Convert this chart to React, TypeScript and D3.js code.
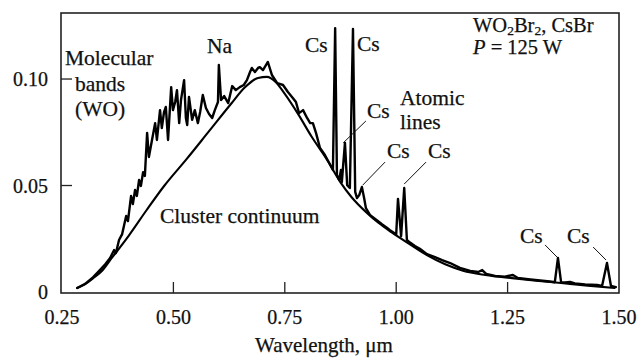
import React from 'react';
import * as d3 from 'd3';

// ---- data ----
const xTickValues = [0.25, 0.5, 0.75, 1.0, 1.25, 1.5];
const xTickLabels = ['0.25', '0.50', '0.75', '1.00', '1.25', '1.50'];
const xTickMarks = [0.5, 0.75, 1.0, 1.25];
const yTickValues = [0, 0.05, 0.1];
const yTickLabels = ['0', '0.05', '0.10'];
const yTickMarks = [0.05, 0.1];

// Cluster continuum (smooth)
const contWl = [0.284, 0.30, 0.32, 0.34, 0.36, 0.40, 0.44, 0.48, 0.53, 0.58, 0.63, 0.66, 0.69, 0.71, 0.73, 0.75, 0.78, 0.81, 0.845, 0.875, 0.90, 0.935, 0.96, 0.99, 1.03, 1.07, 1.11, 1.15, 1.20, 1.26, 1.32, 1.37, 1.43, 1.49];
const contVal = [0.0019, 0.0035, 0.0065, 0.0100, 0.0155, 0.0265, 0.0385, 0.0500, 0.0625, 0.0755, 0.0885, 0.0960, 0.1005, 0.1010, 0.0985, 0.0930, 0.0835, 0.0730, 0.0620, 0.0515, 0.0445, 0.0370, 0.0325, 0.0280, 0.0225, 0.0172, 0.0130, 0.0100, 0.0080, 0.0065, 0.0052, 0.0042, 0.0030, 0.0019];

// Measured spectrum
const specWl = [
  0.284, 0.302, 0.320, 0.335, 0.347, 0.358, 0.367, 0.371, 0.378, 0.385,
  0.389, 0.394, 0.398, 0.405, 0.409, 0.414, 0.418, 0.423, 0.427, 0.432,
  0.436, 0.439, 0.441, 0.445, 0.452, 0.459, 0.463, 0.470, 0.474, 0.479,
  0.483, 0.488, 0.495, 0.499, 0.504, 0.508, 0.513, 0.517, 0.524, 0.528,
  0.531, 0.535, 0.542, 0.548, 0.555, 0.560, 0.566, 0.573, 0.580, 0.587,
  0.593, 0.600, 0.602, 0.607, 0.614, 0.623, 0.632, 0.640, 0.649, 0.658,
  0.665, 0.672, 0.676, 0.683, 0.690, 0.694, 0.701, 0.712, 0.721, 0.733,
  0.746, 0.757, 0.768, 0.775, 0.782, 0.791, 0.800, 0.807, 0.813, 0.820,
  0.829, 0.840, 0.851, 0.858, 0.863, 0.867, 0.872, 0.876, 0.878, 0.885,
  0.890, 0.896, 0.903, 0.908, 0.912, 0.917, 0.923, 0.928, 0.932, 0.941,
  0.955, 0.968, 0.979, 0.986, 0.993, 1.000, 1.004, 1.011, 1.018, 1.024,
  1.031, 1.042, 1.053, 1.069, 1.087, 1.103, 1.121, 1.143, 1.166, 1.184,
  1.193, 1.202, 1.222, 1.244, 1.262, 1.273, 1.296, 1.323, 1.345, 1.356,
  1.363, 1.370, 1.379, 1.390, 1.401, 1.424, 1.451, 1.462, 1.473, 1.482,
  1.493,
];
const specVal = [
  0.0019, 0.0038, 0.0070, 0.0103, 0.0130, 0.0160, 0.0197, 0.0183, 0.0244, 0.0272,
  0.0310, 0.0357, 0.0333, 0.0451, 0.0413, 0.0479, 0.0451, 0.0526, 0.0498, 0.0563,
  0.0545, 0.0667, 0.0747, 0.0634, 0.0714, 0.0793, 0.0714, 0.0854, 0.0770, 0.0845,
  0.0869, 0.0714, 0.0962, 0.0854, 0.0892, 0.0948, 0.0793, 0.0901, 0.0995, 0.0817,
  0.0784, 0.0916, 0.0808, 0.0854, 0.0793, 0.0845, 0.0925, 0.0864, 0.0836, 0.0817,
  0.0854, 0.0892, 0.1066, 0.0901, 0.0920, 0.0887, 0.0967, 0.0948, 0.0962, 0.0972,
  0.0995, 0.1033, 0.1052, 0.1033, 0.1052, 0.1056, 0.1042, 0.1080, 0.1019, 0.0981,
  0.0972, 0.0939, 0.0911, 0.0892, 0.0840, 0.0854, 0.0817, 0.0793, 0.0793, 0.0747,
  0.0676, 0.0643, 0.0601, 0.0573, 0.1239, 0.0549, 0.0526, 0.0573, 0.0516, 0.0700,
  0.0502, 0.0488, 0.1235, 0.0470, 0.0441, 0.0455, 0.0493, 0.0441, 0.0394, 0.0362,
  0.0340, 0.0318, 0.0302, 0.0290, 0.0280, 0.0270, 0.0437, 0.0262, 0.0488, 0.0244,
  0.0232, 0.0216, 0.0203, 0.0178, 0.0164, 0.0150, 0.0136, 0.0113, 0.0099, 0.0094,
  0.0103, 0.0085, 0.0075, 0.0072, 0.0080, 0.0066, 0.0060, 0.0054, 0.0049, 0.0046,
  0.0160, 0.0046, 0.0045, 0.0047, 0.0040, 0.0036, 0.0033, 0.0028, 0.0136, 0.0028,
  0.0023,
];

// Leader lines for Cs labels: from label side to line peak
const leaderFromWl = [0.932, 0.975, 1.067, 1.334, 1.442];
const leaderFromVal = [0.0803, 0.0610, 0.0610, 0.0221, 0.0211];
const leaderToWl = [0.881, 0.925, 1.018, 1.361, 1.471];
const leaderToVal = [0.0700, 0.0502, 0.0507, 0.0164, 0.0150];

const FONT = 'Liberation Serif';
const INK = '#111';

export default function App() {
  const W = 640, H = 360;
  const left = 61, right = 619, top = 13, bottom = 293;
  const x = d3.scaleLinear().domain([0.25, 1.5]).range([62, 619]);
  const y = d3.scaleLinear().domain([0, 0.131]).range([292, 13]);

  const contPts: [number, number][] = contWl.map((w, i) => [w, contVal[i]]);
  const specPts: [number, number][] = specWl.map((w, i) => [w, specVal[i]]);

  const contLine = d3.line<[number, number]>()
    .x(d => x(d[0])).y(d => y(d[1]))
    .curve(d3.curveMonotoneX);
  const specLine = d3.line<[number, number]>()
    .x(d => x(d[0])).y(d => y(d[1]))
    .curve(d3.curveLinear);

  const tickLen = 11;
  const annFs = 21.5;
  const txt = { fontFamily: FONT, fill: INK, stroke: INK, strokeWidth: 0.25 } as React.CSSProperties;

  return (
    <svg width={W} height={H} style={{ position: 'absolute', left: 0, top: 0, background: '#fff' }}>
      <rect x={0} y={0} width={W} height={H} fill="#fff" />
      {/* frame */}
      <rect x={left} y={top} width={right - left} height={bottom - top}
        fill="none" stroke="#222" strokeWidth={1.6} />
      {/* x ticks */}
      {xTickMarks.map(t => (
        <line key={'xt' + t} x1={x(t)} x2={x(t)} y1={bottom} y2={bottom - tickLen}
          stroke="#222" strokeWidth={1.3} />
      ))}
      {xTickValues.map((t, i) => (
        <text key={'xl' + t} x={x(t)} y={324} textAnchor="middle" fontSize={20} style={txt}>
          {xTickLabels[i]}
        </text>
      ))}
      {/* y ticks */}
      {yTickMarks.map(t => (
        <line key={'yt' + t} x1={left} x2={left + tickLen} y1={y(t)} y2={y(t)}
          stroke="#222" strokeWidth={1.3} />
      ))}
      {yTickValues.map((t, i) => (
        <text key={'yl' + t} x={48} y={y(t)} dy="0.35em" textAnchor="end" fontSize={20} style={txt}>
          {yTickLabels[i]}
        </text>
      ))}
      <text x={324} y={352} textAnchor="middle" fontSize={21} style={txt}>Wavelength, μm</text>

      {/* curves */}
      <path d={contLine(contPts) || ''} fill="none" stroke="#000" strokeWidth={2.1}
        strokeLinejoin="round" strokeLinecap="round" />
      <path d={specLine(specPts) || ''} fill="none" stroke="#000" strokeWidth={2.4}
        strokeLinejoin="round" strokeLinecap="round" />

      {/* leaders */}
      {leaderFromWl.map((w, i) => (
        <line key={'ld' + i} x1={x(w)} y1={y(leaderFromVal[i])} x2={x(leaderToWl[i])} y2={y(leaderToVal[i])}
          stroke="#111" strokeWidth={1} />
      ))}

      {/* annotations */}
      <g fontSize={annFs}>
        <text x={65} y={65} style={txt}>Molecular</text>
        <text x={75} y={91} style={txt}>bands</text>
        <text x={75} y={116} style={txt}>(WO)</text>
        <text x={219.5} y={53} textAnchor="middle" style={txt}>Na</text>
        <text x={305} y={52} style={txt}>Cs</text>
        <text x={357} y={51} style={txt}>Cs</text>
        <text x={367} y={118} style={txt}>Cs</text>
        <text x={400} y={105} style={txt}>Atomic</text>
        <text x={400} y={129} style={txt}>lines</text>
        <text x={387} y={158} style={txt}>Cs</text>
        <text x={428} y={158} style={txt}>Cs</text>
        <text x={160} y={223} style={txt}>Cluster continuum</text>
        <text x={520} y={243} style={txt}>Cs</text>
        <text x={567} y={243} style={txt}>Cs</text>
      </g>
      <g fontSize={20.5}>
        <text x={473} y={32} style={txt}>
          WO<tspan dy={3} fontSize={13.5}>2</tspan><tspan dy={-3}>Br</tspan><tspan dy={3} fontSize={13.5}>2</tspan><tspan dy={-3}>, CsBr</tspan>
        </text>
        <text x={473} y={54} style={txt}>
          <tspan fontStyle="italic">P</tspan> = 125 W
        </text>
      </g>
    </svg>
  );
}
